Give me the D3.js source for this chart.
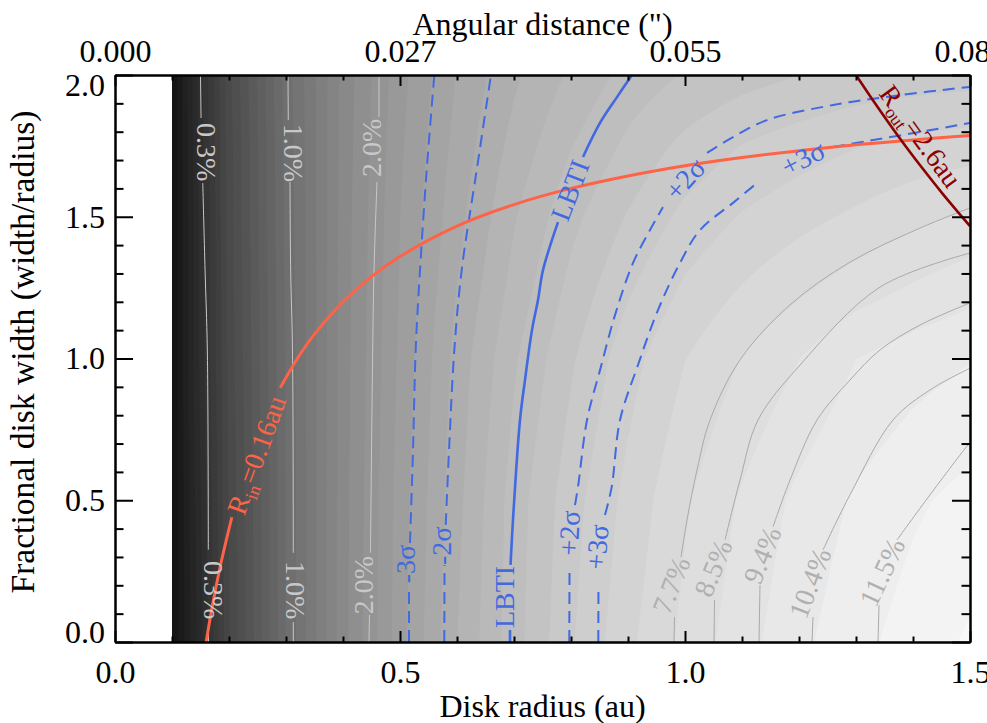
<!DOCTYPE html>
<html>
<head>
<meta charset="utf-8">
<script src="https://cdn.jsdelivr.net/npm/d3@7"></script>
<style>
  body { margin: 0; background: #fff; }
  svg { display: block; }
  text { font-family: "Liberation Serif", "Times New Roman", serif; }
</style>
</head>
<body>
<svg id="chart" width="987" height="723"></svg>
<script>
// Model grid: fractional flux (%) vs disk radius (au) and fractional width
const fieldR = [0.1, 0.15, 0.2, 0.3, 0.4, 0.5, 0.6, 0.7, 0.8, 0.9, 1.0, 1.1, 1.2, 1.3, 1.4, 1.5];
const fieldW = [0, 0.5, 1.0, 1.25, 1.5, 1.75, 2.0];
const fieldW00 = [0.17, 0.27, 0.46, 0.94, 1.65, 2.45, 3.45, 4.47, 5.63, 6.8, 7.92, 9.05, 10.15, 11.13, 12.05, 12.9];
const fieldW05 = [0.17, 0.28, 0.47, 0.94, 1.64, 2.42, 3.35, 4.42, 5.47, 6.5, 7.6, 8.63, 9.66, 10.56, 11.3, 11.9];
const fieldW10 = [0.17, 0.29, 0.48, 0.95, 1.63, 2.36, 3.25, 4.16, 5.08, 6.05, 6.95, 7.73, 8.5, 9.4, 9.95, 10.35];
const fieldW125 = [0.17, 0.29, 0.485, 0.955, 1.625, 2.33, 3.13, 3.95, 4.8, 5.62, 6.4, 7.0, 7.55, 8.1, 8.6, 9.05];
const fieldW15 = [0.17, 0.29, 0.49, 0.96, 1.62, 2.31, 3.02, 3.78, 4.53, 5.2, 5.86, 6.35, 6.73, 7.1, 7.5, 7.85];
const fieldW175 = [0.17, 0.295, 0.49, 0.97, 1.61, 2.27, 2.93, 3.57, 4.2, 4.77, 5.3, 5.72, 6.0, 6.27, 6.48, 6.65];
const fieldW20 = [0.17, 0.3, 0.5, 0.98, 1.6, 2.23, 2.84, 3.39, 3.88, 4.37, 4.7, 4.95, 5.15, 5.3, 5.4, 5.45];
const fieldRows = [fieldW00, fieldW05, fieldW10, fieldW125, fieldW15, fieldW175, fieldW20];

// Contour lines, [radius, width]; null = gap for a label
const pct03 = [[0.164, 0], [0.164, 0.07], null, [0.1637, 0.325], [0.162, 1.03], [0.158, 1.312], [0.154, 1.619], null, [0.151, 1.848], [0.150, 2.0]];
const pct10 = [[0.3128, 0], [0.3128, 0.07], null, [0.3128, 0.314], [0.3114, 1.03], [0.3082, 1.312], [0.307, 1.623], null, [0.304, 1.841], [0.3035, 2.0]];
const pct20 = [[0.4456, 0], [0.4465, 0.095], null, [0.4482, 0.314], [0.4521, 1.03], [0.4544, 1.312], [0.4596, 1.623], null, [0.4632, 1.852], [0.4632, 2.0]];
const pct77 = [[0.9807, 0], [0.9816, 0.088], null, [0.993, 0.3], [1.0035, 0.43], [1.0211, 0.607], [1.0439, 0.783], [1.0965, 0.995], [1.1842, 1.189], [1.2895, 1.34], [1.4123, 1.46], [1.5, 1.531]];
const pct85 = [[1.0509, 0], [1.0518, 0.148], null, [1.0702, 0.36], [1.0965, 0.571], [1.1281, 0.783], [1.2018, 0.977], [1.3421, 1.252], [1.5, 1.372]];
const pct94 = [[1.1298, 0], [1.1316, 0.201], null, [1.1544, 0.406], [1.1842, 0.571], [1.2316, 0.783], [1.2895, 0.924], [1.3421, 1.03], [1.4123, 1.118], [1.5, 1.196]];
const pct104 = [[1.2228, 0], [1.2246, 0.088], null, [1.2421, 0.325], [1.2895, 0.519], [1.3649, 0.783], [1.4298, 0.889], [1.5, 0.966]];
const pct115 = [[1.3386, 0], [1.3404, 0.13], null, [1.3719, 0.36], [1.4298, 0.519], [1.4965, 0.695], [1.5, 0.702]];

const lbti = [[0.693, 0], [0.693, 0.042], null, [0.6939, 0.272], [0.6982, 0.43], [0.7105, 0.783], [0.7193, 0.924], [0.7316, 1.101], [0.7421, 1.206], [0.7509, 1.312], [0.7772, 1.481], null, [0.8211, 1.711], [0.8509, 1.831], [0.8807, 1.922], [0.907, 2.0]];
const minus3 = [[0.5158, 0], [0.5158, 0.201], null, [0.5175, 0.349], [0.5228, 0.677], [0.5275, 1.03], [0.5351, 1.312], [0.5468, 1.665], [0.5602, 2.0]];
const minus2 = [[0.5777, 0], [0.5781, 0.272], null, [0.5802, 0.413], [0.586, 0.677], [0.5953, 1.03], [0.6082, 1.312], [0.6346, 1.665], [0.6596, 2.0]];
const plus2 = [[0.797, 0], [0.7974, 0.247], null, [0.807, 0.483], [0.8123, 0.547], [0.8281, 0.783], [0.8509, 0.959], [0.8772, 1.153], [0.9088, 1.337], [0.9386, 1.453], [0.9614, 1.534], null, [1.0386, 1.725], [1.0842, 1.781], [1.1439, 1.841], [1.2596, 1.894], [1.3772, 1.929], [1.5, 1.958]];
const plus3 = [[0.8479, 0], [0.8482, 0.201], null, [0.8596, 0.448], [0.8714, 0.547], [0.886, 0.783], [0.9175, 0.977], [0.9526, 1.171], [0.9912, 1.337], [1.0263, 1.453], [1.0842, 1.549], [1.1263, 1.619], null, [1.2596, 1.746], [1.3193, 1.767], [1.4123, 1.799], [1.5, 1.831]];

const rInner = [[0.16, 0], [0.17, 0.118], [0.185, 0.27], [0.205, 0.44], null, [0.29, 0.897], [0.32, 1.0], [0.35, 1.086], [0.4, 1.2], [0.45, 1.289], [0.5, 1.36], [0.6, 1.467], [0.7, 1.543], [0.8, 1.6], [0.9, 1.644], [1.0, 1.68], [1.1, 1.709], [1.2, 1.733], [1.3, 1.754], [1.4, 1.771], [1.5, 1.787]];
const rOuter = [[1.5, 1.467], [1.477, 1.521], [1.45, 1.586], [1.42, 1.662], [1.39, 1.741], [1.36, 1.824], [1.33, 1.91], [1.3, 2.0]];

// Ticks
const xMajor = [0.0, 0.5, 1.0, 1.5];
const xMinor = [0.1, 0.2, 0.3, 0.4, 0.6, 0.7, 0.8, 0.9, 1.1, 1.2, 1.3, 1.4];
const topLabels = ["0.000", "0.027", "0.055", "0.082"];
const yMajor = [0.0, 0.5, 1.0, 1.5, 2.0];
const yMinor = [0.1, 0.2, 0.3, 0.4, 0.6, 0.7, 0.8, 0.9, 1.1, 1.2, 1.3, 1.4, 1.6, 1.7, 1.8, 1.9];

// Fill levels (geometric, every ~10.5%)
const levelBase = 7.7, levelRatio = 1.1055;

const svg = d3.select("#chart");
const x = d3.scaleLinear().domain([0, 1.5]).range([115, 970]);
const y = d3.scaleLinear().domain([0, 2]).range([642, 75]);

svg.append("defs").append("clipPath").attr("id", "plotclip")
    .append("rect")
    .attr("x", x(0.1)).attr("y", y(2))
    .attr("width", x(1.5) - x(0.1)).attr("height", y(0) - y(2));

// Log of the field at (r, w), bilinear on the grid
function logField(r, w) {
    let i = d3.bisectRight(fieldR, r) - 1;
    i = Math.max(0, Math.min(fieldR.length - 2, i));
    let j = d3.bisectRight(fieldW, w) - 1;
    j = Math.max(0, Math.min(fieldW.length - 2, j));
    const tr = (r - fieldR[i]) / (fieldR[i + 1] - fieldR[i]);
    const tw = (w - fieldW[j]) / (fieldW[j + 1] - fieldW[j]);
    const a = Math.log(fieldRows[j][i]), b = Math.log(fieldRows[j][i + 1]);
    const c = Math.log(fieldRows[j + 1][i]), d = Math.log(fieldRows[j + 1][i + 1]);
    return (a * (1 - tr) + b * tr) * (1 - tw) + (c * (1 - tr) + d * tr) * tw;
}

// Filled contours
const nx = 281, ny = 201, dr = 0.005, dw = 0.01;
const values = new Array(nx * ny);
for (let j = 0; j < ny; j++) {
    for (let i = 0; i < nx; i++) {
        values[j * nx + i] = logField(0.1 + i * dr, j * dw);
    }
}
const thresholds = d3.range(-50, 7).map(k => Math.log(levelBase) + k * Math.log(levelRatio));
const gray = d3.scaleLinear().domain([Math.log(0.12), Math.log(15.2)]).range([0, 255]).clamp(true);

const proj = d3.geoTransform({
    point: function (gx, gy) {
        this.stream.point(x(0.1 + (gx - 0.5) * dr), y((gy - 0.5) * dw));
    }
});
const geoPath = d3.geoPath(proj);
const bands = d3.contours().size([nx, ny]).thresholds(thresholds)(values);

const fillG = svg.append("g").attr("clip-path", "url(#plotclip)");
fillG.append("rect")
    .attr("x", x(0.1)).attr("y", y(2))
    .attr("width", x(1.5) - x(0.1)).attr("height", y(0) - y(2))
    .attr("fill", "#000");
fillG.selectAll("path.band")
    .data(bands)
    .join("path")
    .attr("class", "band")
    .attr("d", geoPath)
    .attr("fill", d => {
        const g = Math.round(gray(d.value + 0.5 * Math.log(levelRatio)));
        return d3.rgb(g, g, g);
    })
    .attr("stroke", "none");

// Line drawing
const line = d3.line()
    .defined(d => d)
    .x(d => x(d[0]))
    .y(d => y(d[1]))
    .curve(d3.curveCatmullRom);

const linesG = svg.append("g").attr("clip-path", "url(#plotclip)").attr("fill", "none");

[pct03, pct10, pct20].forEach(p => {
    linesG.append("path").attr("d", line(p)).attr("stroke", "#c8c8c8").attr("stroke-width", 1);
});
[pct77, pct85, pct94, pct104, pct115].forEach(p => {
    linesG.append("path").attr("d", line(p)).attr("stroke", "#a9a9a9").attr("stroke-width", 1);
});
[minus3, minus2, plus2, plus3].forEach(p => {
    linesG.append("path").attr("d", line(p))
        .attr("stroke", "#4169e1").attr("stroke-width", 2)
        .attr("stroke-dasharray", "12,7");
});
linesG.append("path").attr("d", line(lbti)).attr("stroke", "#4169e1").attr("stroke-width", 2.6);
linesG.append("path").attr("d", line(rInner)).attr("stroke", "#ff6347").attr("stroke-width", 3);
linesG.append("path").attr("d", line(rOuter)).attr("stroke", "#8b0000").attr("stroke-width", 2.6);

// Contour labels
const labels = [
    { t: "0.3%", r: 0.1614, w: 1.728, a: 90, c: "#c8c8c8" },
    { t: "1.0%", r: 0.314, w: 1.725, a: 90, c: "#c8c8c8" },
    { t: "2.0%", r: 0.449, w: 1.743, a: -90, c: "#c8c8c8" },
    { t: "0.3%", r: 0.1737, w: 0.183, a: 90, c: "#c8c8c8" },
    { t: "1.0%", r: 0.3175, w: 0.183, a: 90, c: "#c8c8c8" },
    { t: "2.0%", r: 0.435, w: 0.201, a: -90, c: "#c8c8c8" },
    { t: "7.7%", r: 0.9754, w: 0.201, a: -68, c: "#b0b0b0" },
    { t: "8.5%", r: 1.049, w: 0.261, a: -68, c: "#b0b0b0" },
    { t: "9.4%", r: 1.135, w: 0.307, a: -68, c: "#b0b0b0" },
    { t: "10.4%", r: 1.219, w: 0.208, a: -69, c: "#b0b0b0" },
    { t: "11.5%", r: 1.3456, w: 0.247, a: -65, c: "#b0b0b0" },
    { t: "LBTI", r: 0.6825, w: 0.159, a: -90, c: "#4169e1" },
    { t: "LBTI", r: 0.798, w: 1.594, a: -69, c: "#4169e1" },
    { t: "-3σ", r: 0.5088, w: 0.275, a: -90, c: "#4169e1" },
    { t: "-2σ", r: 0.5719, w: 0.339, a: -90, c: "#4169e1" },
    { t: "+2σ", r: 0.7965, w: 0.384, a: -87, c: "#4169e1" },
    { t: "+3σ", r: 0.8456, w: 0.335, a: -85, c: "#4169e1" },
    { t: "+2σ", r: 1.0, w: 1.633, a: -48, c: "#4169e1" },
    { t: "+3σ", r: 1.207, w: 1.707, a: -27, c: "#4169e1" }
];
svg.append("g").selectAll("text")
    .data(labels)
    .join("text")
    .attr("transform", d => `translate(${x(d.r)},${y(d.w)}) rotate(${d.a})`)
    .attr("text-anchor", "middle")
    .attr("dy", "0.35em")
    .attr("font-size", 28)
    .attr("fill", d => d.c)
    .text(d => d.t);

// Radius labels with subscripts
const radLabels = [
    { main: "R", sub: "in", rest: "=0.16au", r: 0.2474, w: 0.66, a: -70, c: "#ff6347" },
    { main: "R", sub: "out", rest: "=2.6au", r: 1.414, w: 1.785, a: 54, c: "#8b0000" }
];
radLabels.forEach(d => {
    const t = svg.append("text")
        .attr("transform", `translate(${x(d.r)},${y(d.w)}) rotate(${d.a})`)
        .attr("text-anchor", "middle")
        .attr("font-size", 28)
        .attr("fill", d.c);
    t.append("tspan").attr("dy", 10).text(d.main);
    t.append("tspan").attr("dy", 6).attr("font-size", 18).text(d.sub);
    t.append("tspan").attr("dy", -6).text(d.rest);
});

// Axes
function styleAxis(g) {
    g.attr("font-size", 32).attr("font-family", "'Liberation Serif', serif");
    g.selectAll("path.domain").attr("stroke", "#000").attr("stroke-width", 2);
    g.selectAll(".tick line").attr("stroke", "#000").attr("stroke-width", 2);
    g.selectAll(".tick text").attr("fill", "#000");
}

svg.append("g").attr("transform", "translate(0,642)")
    .call(d3.axisBottom(x).tickValues(xMinor).tickSize(-5.5).tickSizeOuter(0).tickFormat(""))
    .call(styleAxis);
svg.append("g").attr("transform", "translate(0,642)")
    .call(d3.axisBottom(x).tickValues(xMajor).tickSize(-11).tickSizeOuter(0).tickPadding(18).tickFormat(d3.format(".1f")))
    .call(styleAxis);

svg.append("g").attr("transform", "translate(0,75)")
    .call(d3.axisTop(x).tickValues(xMinor).tickSize(-5.5).tickSizeOuter(0).tickFormat(""))
    .call(styleAxis);
svg.append("g").attr("transform", "translate(0,75)")
    .call(d3.axisTop(x).tickValues(xMajor).tickSize(-11).tickSizeOuter(0).tickPadding(13)
        .tickFormat((d, i) => topLabels[i]))
    .call(styleAxis);

svg.append("g").attr("transform", "translate(115,0)")
    .call(d3.axisLeft(y).tickValues(yMinor).tickSize(-8.5).tickSizeOuter(0).tickFormat(""))
    .call(styleAxis);
const yAxisG = svg.append("g").attr("transform", "translate(115,0)")
    .call(d3.axisLeft(y).tickValues(yMajor).tickSize(-18).tickSizeOuter(0).tickPadding(10).tickFormat(d3.format(".1f")))
    .call(styleAxis);
// keep the end labels inside the frame
yAxisG.selectAll(".tick text")
    .attr("y", d => d === 0 ? -10 : (d === 2 ? 10 : 0));

svg.append("g").attr("transform", "translate(970,0)")
    .call(d3.axisRight(y).tickValues(yMinor).tickSize(-8.5).tickSizeOuter(0).tickFormat(""))
    .call(styleAxis);
svg.append("g").attr("transform", "translate(970,0)")
    .call(d3.axisRight(y).tickValues(yMajor).tickSize(-18).tickSizeOuter(0).tickFormat(""))
    .call(styleAxis);

// Axis titles
svg.append("text").attr("x", 542.5).attr("y", 717).attr("text-anchor", "middle")
    .attr("font-size", 32).text("Disk radius (au)");
svg.append("text").attr("x", 542.5).attr("y", 35).attr("text-anchor", "middle")
    .attr("font-size", 32).text("Angular distance (\")");
svg.append("text").attr("transform", "translate(34,352) rotate(-90)").attr("text-anchor", "middle")
    .attr("font-size", 33.5).text("Fractional disk width (width/radius)");
</script>
</body>
</html>
